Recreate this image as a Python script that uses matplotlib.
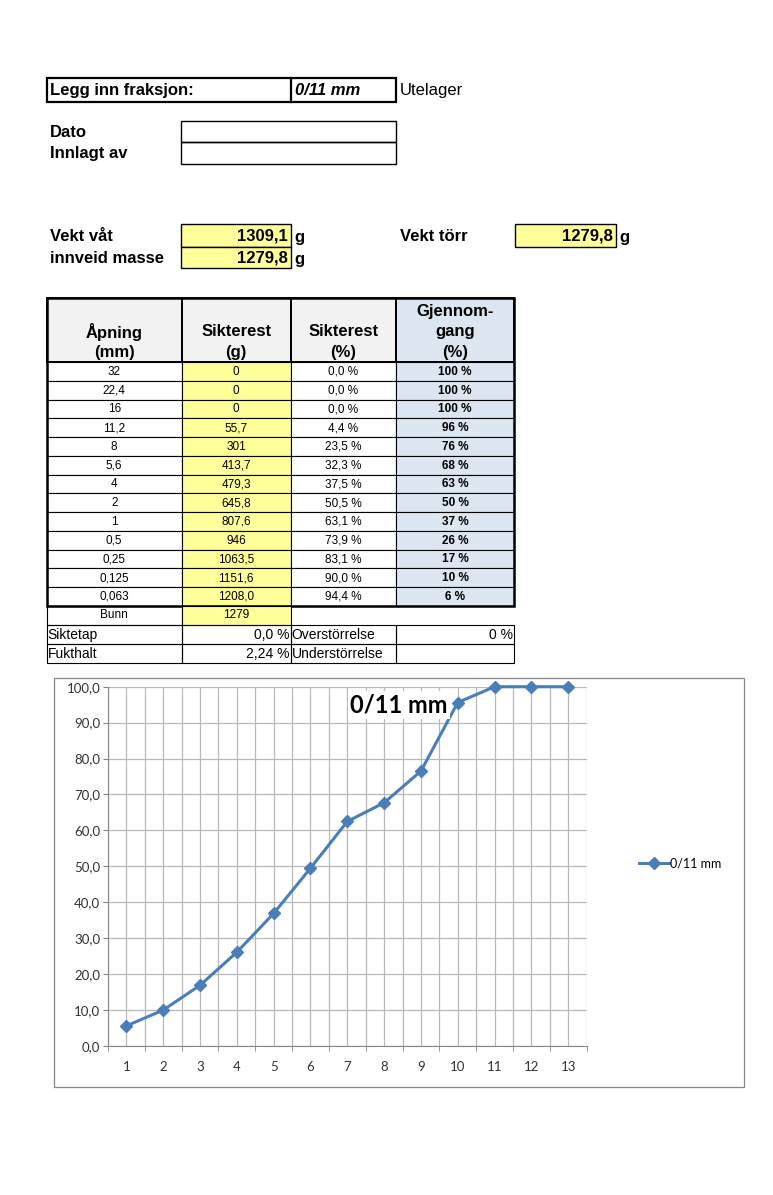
import matplotlib
matplotlib.use('Agg')
import matplotlib.pyplot as plt
import numpy as np
from matplotlib.patches import Rectangle

plt.rcParams['font.family'] = ['Liberation Sans', 'DejaVu Sans']

W, H = 773, 1195

# sheet values
fraksjon = '0/11 mm'
lager = 'Utelager'
vekt_vat = '1309,1'
vekt_torr = '1279,8'
innveid = '1279,8'

header = [['Åpning', '(mm)'], ['Sikterest', '(g)'], ['Sikterest', '(%)'], ['Gjennom-', 'gang', '(%)']]
apning = ['32', '22,4', '16', '11,2', '8', '5,6', '4', '2', '1', '0,5', '0,25', '0,125', '0,063']
sikterest_g = ['0', '0', '0', '55,7', '301', '413,7', '479,3', '645,8', '807,6', '946', '1063,5', '1151,6', '1208,0']
sikterest_pct = ['0,0 %', '0,0 %', '0,0 %', '4,4 %', '23,5 %', '32,3 %', '37,5 %', '50,5 %', '63,1 %',
                 '73,9 %', '83,1 %', '90,0 %', '94,4 %']
gjennomgang = ['100 %', '100 %', '100 %', '96 %', '76 %', '68 %', '63 %', '50 %', '37 %', '26 %', '17 %', '10 %', '6 %']
bunn = '1279'
siktetap = '0,0 %'
fukthalt = '2,24 %'
overstorrelse = '0 %'

# chart values
x_cat = list(range(1, 14))
passing = [5.6, 10.0, 16.9, 26.1, 36.9, 49.5, 62.5, 67.7, 76.5, 95.6, 100, 100, 100]
y_ticks = [0, 10, 20, 30, 40, 50, 60, 70, 80, 90, 100]

YELLOW = '#ffff99'
BLUE = '#dce6f1'
GRAY = '#f2f2f2'

fig = plt.figure(figsize=(W / 100, H / 100), dpi=100)
bg = fig.add_axes([0, 0, 1, 1])
bg.set_xlim(0, W)
bg.set_ylim(H, 0)
bg.axis('off')


def box(x0, y0, x1, y1, fc='none', lw=0.8, ec='black'):
    bg.add_patch(Rectangle((x0, y0), x1 - x0, y1 - y0, facecolor=fc, edgecolor=ec, linewidth=lw))


def txt(x, y, s, size=12, ha='left', weight='normal', style='normal'):
    bg.text(x, y, s, fontsize=size, ha=ha, va='center', fontweight=weight, fontstyle=style)


# top block
box(46.5, 78, 396, 102, lw=1.6)
bg.plot([291, 291], [78, 102], color='black', lw=1.6)
txt(50, 90.5, 'Legg inn fraksjon:', weight='bold')
txt(295, 90.5, fraksjon, weight='bold', style='italic')
txt(400, 90.5, lager)

box(181, 121, 396, 142, lw=1.0)
box(181, 142, 396, 164, lw=1.0)
txt(50, 132, 'Dato', weight='bold')
txt(50, 153, 'Innlagt av', weight='bold')

box(181, 224, 291, 247, fc=YELLOW, lw=1.0)
box(181, 247, 291, 268, fc=YELLOW, lw=1.0)
box(515, 224, 616, 247, fc=YELLOW, lw=1.0)
txt(50, 236, 'Vekt våt', weight='bold')
txt(50, 258, 'innveid masse', weight='bold')
txt(400, 236, 'Vekt törr', weight='bold')
txt(288, 236, vekt_vat, ha='right', weight='bold')
txt(288, 258, innveid, ha='right', weight='bold')
txt(613, 236, vekt_torr, ha='right', weight='bold')
txt(294, 237, 'g', weight='bold')
txt(294, 259, 'g', weight='bold')
txt(619, 237, 'g', weight='bold')

# main table
cols = [46.7, 181.7, 290.7, 396, 514]
top, hb, rh = 298, 362, 18.75
fills = [GRAY, GRAY, GRAY, BLUE]
for j in range(4):
    box(cols[j], top, cols[j + 1], hb, fc=fills[j], lw=1.4)
    lines = header[j]
    for k, s in enumerate(lines):
        yy = 352 - (len(lines) - 1 - k) * 20.5
        txt((cols[j] + cols[j + 1]) / 2, yy, s, ha='center', weight='bold')

row_fill = ['white', YELLOW, 'white', BLUE]
for i in range(len(apning)):
    y0 = hb + i * rh
    vals = [apning[i], sikterest_g[i], sikterest_pct[i], gjennomgang[i]]
    for j in range(4):
        box(cols[j], y0, cols[j + 1], y0 + rh, fc=row_fill[j], lw=0.8)
        txt((cols[j] + cols[j + 1]) / 2, y0 + rh / 2 + 0.5, vals[j], size=8.5, ha='center',
            weight='bold' if j == 3 else 'normal')
tb = hb + len(apning) * rh
box(cols[0], top, cols[4], tb, lw=1.8)
bg.plot([cols[0], cols[4]], [hb, hb], color='black', lw=1.4)

# bottom rows
box(cols[0], tb, cols[1], 625, lw=0.8)
box(cols[1], tb, cols[2], 625, fc=YELLOW, lw=0.8)
txt((cols[0] + cols[1]) / 2, 615, 'Bunn', size=8.5, ha='center')
txt((cols[1] + cols[2]) / 2, 615, bunn, size=8.5, ha='center')
for y0, y1 in [(625, 644), (644, 663)]:
    for j in range(4):
        box(cols[j], y0, cols[j + 1], y1, lw=0.8)
txt(cols[0] + 1, 635, 'Siktetap', size=10)
txt(cols[2] - 1, 635, siktetap, size=10, ha='right')
txt(cols[2] + 1, 635, 'Overstörrelse', size=10)
txt(cols[4] - 1, 635, overstorrelse, size=10, ha='right')
txt(cols[0] + 1, 654, 'Fukthalt', size=10)
txt(cols[2] - 1, 654, fukthalt, size=10, ha='right')
txt(cols[2] + 1, 654, 'Understörrelse', size=10)

# chart
box(54, 678, 744, 1086.5, lw=0.9, ec='#868686')
ax = fig.add_axes([108 / W, 1 - 1046 / H, (586.6 - 108) / W, (1046 - 686.7) / H])
line, = ax.plot(x_cat, passing, color='#4a7ebb', lw=2.2, marker='D', ms=6.5, label=fraksjon,
                solid_joinstyle='round', zorder=5, clip_on=False)
ax.set_xlim(0.5, 13.5)
ax.set_ylim(0, 100)
ax.set_xticks(x_cat)
ax.set_xticks(np.arange(0.5, 14, 1), minor=True)
ax.set_yticks(y_ticks)
ax.set_yticklabels([('%.1f' % v).replace('.', ',') for v in y_ticks])
ax.grid(True, which='both', axis='x', color='#b8b8b8', lw=0.9)
ax.grid(True, which='major', axis='y', color='#b8b8b8', lw=0.9)
ax.set_axisbelow(True)
for s in ['top', 'right']:
    ax.spines[s].set_visible(False)
for s in ['left', 'bottom']:
    ax.spines[s].set_color('#868686')
ax.tick_params(axis='x', which='major', length=0, pad=11, labelsize=9.5, labelcolor='#333333')
ax.tick_params(axis='x', which='minor', length=3.6, color='#868686', direction='out')
ax.tick_params(axis='y', length=3.6, color='#868686', pad=2, labelsize=9.5, labelcolor='#333333')
for lab in ax.get_xticklabels() + ax.get_yticklabels():
    lab.set_family(['Lato', 'DejaVu Sans'])

fig.text(399 / W, 1 - 705 / H, fraksjon, ha='center', va='center', fontsize=17, fontweight='bold',
         family=['Lato', 'DejaVu Sans'], bbox=dict(facecolor='white', edgecolor='none', pad=1.5), zorder=10)

fig.legend(handles=[line], loc='center left', bbox_to_anchor=(639 / W, 1 - 863 / H), frameon=False,
           prop={'family': ['Lato', 'DejaVu Sans'], 'size': 9}, handlelength=2.4, handletextpad=0.1,
           borderpad=0, borderaxespad=0, numpoints=1)

fig.savefig('out.png', dpi=100, facecolor='white')
